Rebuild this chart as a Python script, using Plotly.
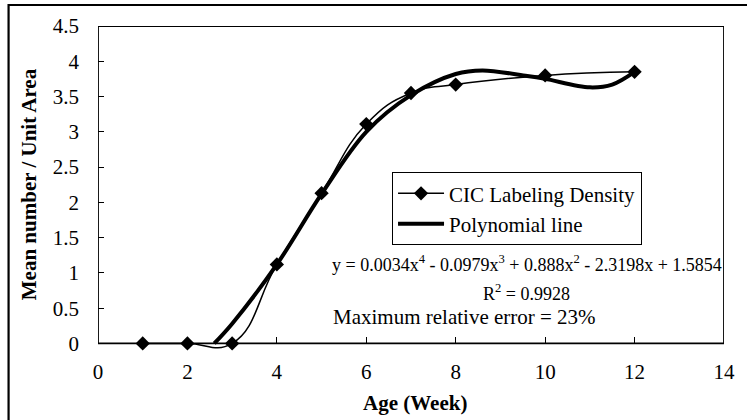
import plotly.graph_objects as go

# Data
age_weeks = [1, 2, 3, 4, 5, 6, 7, 8, 10, 12]
cic_density = [0, 0, 0, 1.12, 2.13, 3.11, 3.55, 3.67, 3.80, 3.85]

# Polynomial trend line
poly_x = [2.6, 3, 4, 5, 6, 7, 8, 8.6, 9.6, 10, 11, 11.5, 12]
poly_y = [0.0, 0.28, 1.12, 2.12, 3.0, 3.52, 3.82, 3.87, 3.79, 3.75, 3.63, 3.67, 3.85]

x_ticks = [0, 2, 4, 6, 8, 10, 12, 14]
y_ticks = [0, 0.5, 1, 1.5, 2, 2.5, 3, 3.5, 4, 4.5]

equation_text = "y = 0.0034x<sup>4</sup> - 0.0979x<sup>3</sup> + 0.888x<sup>2</sup> - 2.3198x + 1.5854"
r2_text = "R<sup>2</sup> = 0.9928"
error_text = "Maximum relative error = 23%"

FONT = "Liberation Serif"
Y_MIN = -0.15

fig = go.Figure()
fig.add_trace(go.Scatter(
    x=age_weeks, y=cic_density, mode="lines+markers", name="CIC Labeling Density",
    line=dict(color="black", width=1.5, shape="spline", smoothing=1.3),
    marker=dict(symbol="diamond", size=11, color="black"),
    cliponaxis=False,
))
fig.add_trace(go.Scatter(
    x=poly_x, y=poly_y, mode="lines", name="Polynomial line",
    line=dict(color="black", width=4, shape="spline", smoothing=1.0),
))

# plot frame
fig.add_shape(type="rect", xref="x", yref="y", x0=0, x1=14, y0=0, y1=4.5,
              line=dict(color="black", width=1.8), layer="below")
# outer chart border (top/left visible)
fig.add_shape(type="rect", xref="paper", yref="paper",
              x0=(7 - 98) / 637, x1=1.3, y0=-0.6, y1=(354 - 5) / 328,
              line=dict(color="black", width=2.2))

fig.add_annotation(text=equation_text, x=9.6, y=1.14, xref="x", yref="y",
                   xanchor="center", yanchor="middle",
                   showarrow=False, font=dict(size=18, family=FONT, color="black"))
fig.add_annotation(text=r2_text, x=9.58, y=0.72, xref="x", yref="y",
                   xanchor="center", yanchor="middle",
                   showarrow=False, font=dict(size=18, family=FONT, color="black"))
fig.add_annotation(text=error_text, x=8.2, y=0.37, xref="x", yref="y",
                   xanchor="center", yanchor="middle",
                   showarrow=False, font=dict(size=21, family=FONT, color="black"))

# axis titles
fig.add_annotation(text="<b>Mean number / Unit Area</b>", x=(28 - 98) / 637, y=(354 - 184) / 328,
                   xref="paper", yref="paper", textangle=-90, showarrow=False,
                   xanchor="center", yanchor="middle",
                   font=dict(size=21, family=FONT, color="black"))
fig.add_annotation(text="<b>Age (Week)</b>", x=(421 - 98) / 637, y=(354 - 403) / 328,
                   xref="paper", yref="paper", showarrow=False,
                   xanchor="center", yanchor="middle",
                   font=dict(size=21, family=FONT, color="black"))

fig.update_layout(
    width=747, height=420,
    margin=dict(l=98, r=12, t=26, b=66),
    paper_bgcolor="white", plot_bgcolor="white",
    font=dict(family=FONT, size=21, color="black"),
    showlegend=True,
    legend=dict(x=(397 - 98) / 637, y=(354 - 172) / 328, xanchor="left", yanchor="top",
                bordercolor="black", borderwidth=1.2, bgcolor="white",
                font=dict(size=21, family=FONT, color="black"), itemwidth=46,
                entrywidth=225, entrywidthmode="pixels",
                tracegroupgap=0),
    xaxis=dict(range=[0, 14], tickvals=x_ticks, ticktext=[str(v) for v in x_ticks],
               ticks="inside", ticklen=6, tickcolor="black", tickwidth=1.2,
               showgrid=False, zeroline=False, showline=False,
               anchor="free", position=(-Y_MIN) / (4.5 - Y_MIN),
               ticklabelstandoff=14,
               tickfont=dict(size=21, family=FONT, color="black")),
    yaxis=dict(range=[Y_MIN, 4.5], tickvals=y_ticks,
               ticktext=["0", "0.5", "1", "1.5", "2", "2.5", "3", "3.5", "4", "4.5"],
               ticks="inside", ticklen=6, tickcolor="black", tickwidth=1.2,
               showgrid=False, zeroline=False, showline=False,
               ticklabelstandoff=18,
               tickfont=dict(size=21, family=FONT, color="black")),
)

fig.write_html("out.html")
